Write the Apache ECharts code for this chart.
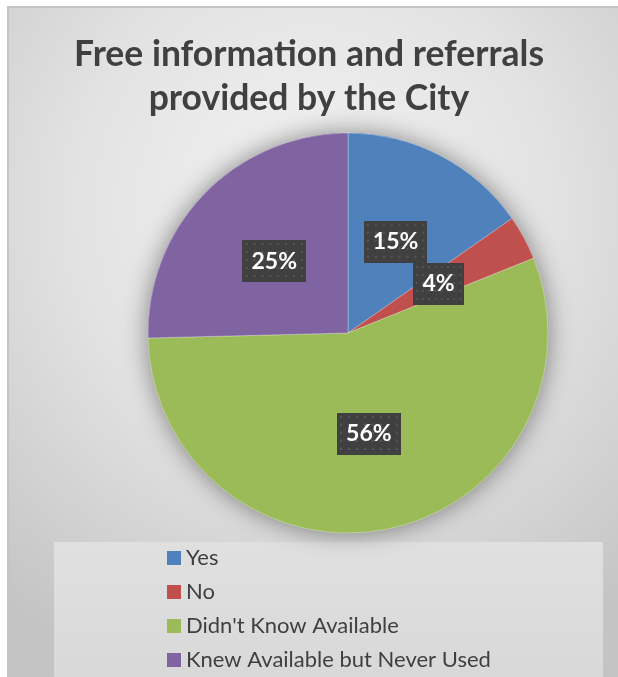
<!DOCTYPE html>
<html>
<head>
<meta charset="utf-8">
<script src="https://cdn.jsdelivr.net/npm/echarts@6/dist/echarts.min.js"></script>
<style>
  html, body { margin: 0; padding: 0; background: #fff; }
  #bg {
    position: absolute; left: 7px; top: 6px; width: 611px; height: 671px;
    box-sizing: border-box;
    border-left: 2px solid #c4c4c4; border-top: 2px solid #c4c4c4;
    background: radial-gradient(ellipse 80% 75% at 50% 30%, #f4f4f4 0%, #e2e2e2 50%, #c4c4c4 100%);
  }
  #main { position: absolute; left: 0; top: 0; width: 618px; height: 677px; }
</style>
</head>
<body>
<div id="bg"></div>
<div id="main"></div>
<script>
// data
var categories = ['Yes', 'No', "Didn't Know Available", 'Knew Available but Never Used'];
var values = [15.3, 3.6, 55.7, 25.4];
var colors = ['#4f81bd', '#c0504d', '#9bbb59', '#8064a2'];

// dotted dark label background
function makeDots() {
  var c = document.createElement('canvas');
  c.width = 64; c.height = 42;
  var g = c.getContext('2d');
  g.fillStyle = '#404040';
  g.fillRect(0, 0, c.width, c.height);
  g.fillStyle = '#575757';
  for (var y = 3; y < c.height; y += 8) {
    for (var x = 3; x < c.width; x += 8) {
      g.fillRect(x, y, 2, 2);
    }
  }
  return c;
}
var dots = makeDots();

var seriesData = categories.map(function (name, i) {
  return { name: name, value: values[i], itemStyle: { color: colors[i] } };
});

var chart = echarts.init(document.getElementById('main'), null, { renderer: 'canvas' });
chart.setOption({
  backgroundColor: 'transparent',
  animation: false,
  title: {
    text: 'Free information and referrals\nprovided by the City',
    left: 'center',
    top: 33,
    padding: [0, 0, 0, 12],
    textStyle: {
      fontFamily: 'Lato',
      fontSize: 35.5,
      fontWeight: 'bold',
      color: '#404040',
      lineHeight: 44
    }
  },
  graphic: [{
    type: 'rect',
    z: -1,
    shape: { x: 54, y: 542, width: 549, height: 140 },
    style: {
      fill: {
        type: 'linear', x: 0, y: 0, x2: 0, y2: 1,
        colorStops: [{ offset: 0, color: '#e0e0e0' }, { offset: 1, color: '#d8d8d8' }]
      }
    }
  }],
  legend: {
    orient: 'vertical',
    left: 167,
    top: 547,
    padding: 0,
    itemWidth: 14,
    itemHeight: 14,
    itemGap: 12,
    icon: 'rect',
    data: categories,
    textStyle: { fontFamily: 'Lato', fontSize: 22, color: '#404040', lineHeight: 20 }
  },
  series: [
    {
      // soft shadow underneath the pie
      type: 'pie',
      silent: true,
      z: 1,
      center: [348, 333],
      radius: 200,
      startAngle: 90,
      label: { show: false },
      labelLine: { show: false },
      itemStyle: { shadowBlur: 24, shadowColor: 'rgba(0,0,0,0.45)' },
      data: seriesData
    },
    {
      type: 'pie',
      z: 2,
      center: [348, 333],
      radius: 200,
      startAngle: 90,
      itemStyle: { borderColor: 'rgba(255,255,255,0.5)', borderWidth: 0.6 },
      label: {
        show: true,
        position: 'inside',
        formatter: function (p) { return Math.round(p.percent) + '%'; },
        fontFamily: 'Lato',
        fontSize: 23,
        fontWeight: 'bold',
        color: '#fff',
        lineHeight: 24,
        padding: [9, 9],
        backgroundColor: { image: dots },
        shadowColor: 'rgba(0,0,0,0.45)',
        shadowBlur: 5,
        shadowOffsetX: 3,
        shadowOffsetY: 3
      },
      labelLine: { show: false },
      emphasis: { disabled: true },
      data: seriesData
    }
  ]
});
</script>
</body>
</html>
